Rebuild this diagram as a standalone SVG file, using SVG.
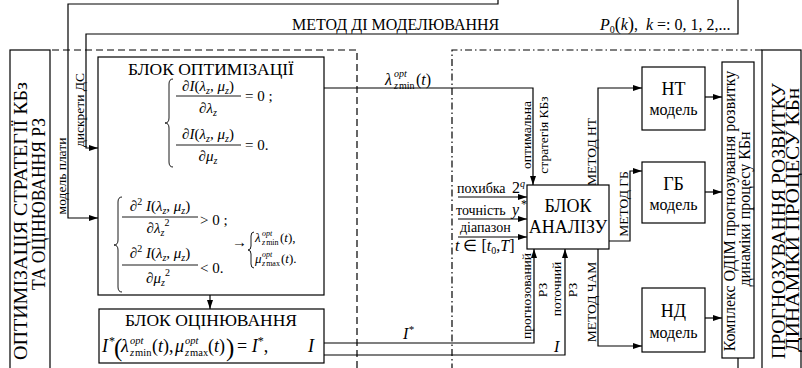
<svg xmlns="http://www.w3.org/2000/svg" width="802" height="368" viewBox="0 0 802 368" font-family="'Liberation Serif','Times New Roman',serif">
<defs>
<style>
text{font-family:"Liberation Serif","Times New Roman",serif;fill:#000}
.i{font-style:italic}
.n{font-style:normal}
.box{fill:#fff;stroke:#000;stroke-width:1.2}
.ln{fill:none;stroke:#000;stroke-width:1.2}
.dash{fill:none;stroke:#000;stroke-width:1.2;stroke-dasharray:7 4}
.dd{fill:none;stroke:#000;stroke-width:1.2;stroke-dasharray:7 3 1.5 3}
.br{fill:none;stroke:#000;stroke-width:0.9}
.big{font-size:18.5px}
.big2{font-size:18px}
.lab{font-size:13.5px}
.ttl{font-size:17.5px}
</style>
<marker id="a" viewBox="0 0 9 6" refX="9" refY="3" markerWidth="9" markerHeight="6" markerUnits="userSpaceOnUse" orient="auto" preserveAspectRatio="none"><path d="M0,0 L9,3 L0,6 z" fill="#000"/></marker>
</defs>
<rect width="802" height="368" fill="#fff"/>

<g id="frames">
<path class="dash" d="M52,50 H357 V368"/>
<path class="dd" d="M762,50 H452 V368"/>
</g>

<g id="connectors">
<path class="ln" d="M498,0 V4 H68 V218 H98" marker-end="url(#a)"/>
<path class="ln" d="M738,0 V34 H86 V148 H98" marker-end="url(#a)"/>
<path class="ln" d="M324,88 H533 V185" marker-end="url(#a)"/>
<path class="ln" d="M210,295 V309" marker-end="url(#a)"/>
<path class="ln" d="M324,343 H534 V249" marker-end="url(#a)"/>
<path class="ln" d="M324,355 H565 V249" marker-end="url(#a)"/>
<path class="ln" d="M458,197 H527" marker-end="url(#a)"/>
<path class="ln" d="M458,219 H527" marker-end="url(#a)"/>
<path class="ln" d="M458,237 H527" marker-end="url(#a)"/>
<path class="ln" d="M598,185 V88 H642" marker-end="url(#a)"/>
<path class="ln" d="M609,241 H630 V171 H642" marker-end="url(#a)"/>
<path class="ln" d="M598,249 V346 H642" marker-end="url(#a)"/>
<path class="ln" d="M705,97 H722" marker-end="url(#a)"/>
<path class="ln" d="M705,192 H722" marker-end="url(#a)"/>
<path class="ln" d="M705,318 H722" marker-end="url(#a)"/>
<path class="ln" d="M738,358 V368"/>
</g>

<g id="labels">
<text x="292" y="30" font-size="16">МЕТОД ДІ МОДЕЛЮВАННЯ</text>
<text x="600" y="30" font-size="16"><tspan class="i">P</tspan><tspan font-size="10" dy="3">0</tspan><tspan dy="-3" font-size="18">(</tspan><tspan class="i">k</tspan><tspan font-size="18">)</tspan>,<tspan class="i" dx="8">k</tspan> =: 0, 1, 2,...</text>
<text class="lab" transform="translate(66,176) rotate(-90)" text-anchor="middle">модель плати</text>
<text class="lab" transform="translate(84,110) rotate(-90)" text-anchor="middle">дискрети ДС</text>
<text class="i" x="385" y="85" font-size="16">λ</text>
<text class="i" x="394" y="77" font-size="10">opt</text>
<text x="394" y="89" font-size="10"><tspan class="i">z</tspan><tspan dx="1">min</tspan></text>
<text x="416" y="85" font-size="16">(<tspan class="i">t</tspan>)</text>
<text class="lab" transform="translate(531,135) rotate(-90)" text-anchor="middle">оптимальна</text>
<text class="lab" transform="translate(548,135) rotate(-90)" text-anchor="middle">стратегія КБз</text>
<text x="457" y="193" font-size="14">похибка</text>
<text x="512" y="193" font-size="16">2<tspan class="i" font-size="10" dy="-6">q</tspan></text>
<text x="521" y="208" font-size="12">*</text>
<text x="456" y="215" font-size="14">точність</text>
<text class="i" x="512" y="215" font-size="16">y</text>
<text x="460" y="232" font-size="14">діапазон</text>
<text x="455" y="251" font-size="16"><tspan class="i">t</tspan> ∈ [<tspan class="i">t</tspan><tspan font-size="10" dy="3">0</tspan><tspan dy="-3">,</tspan><tspan class="i">T</tspan>]</text>
<text class="lab" transform="translate(531,296) rotate(-90)" text-anchor="middle">прогнозований</text>
<text class="lab" transform="translate(547,290) rotate(-90)" text-anchor="middle">РЗ</text>
<text class="lab" transform="translate(561,289) rotate(-90)" text-anchor="middle">поточний</text>
<text class="lab" transform="translate(577,290) rotate(-90)" text-anchor="middle">РЗ</text>
<text class="i" x="403" y="339" font-size="16">I<tspan font-size="11" dy="-6">*</tspan></text>
<text class="i" x="554" y="352" font-size="16">I</text>
<text class="lab" transform="translate(596,152) rotate(-90)" text-anchor="middle">МЕТОД НТ</text>
<text class="lab" transform="translate(628,204) rotate(-90)" text-anchor="middle">МЕТОД ГБ</text>
<text class="lab" transform="translate(596,302) rotate(-90)" text-anchor="middle">МЕТОД ЧАМ</text>
</g>

<g id="left-title">
<rect class="box" x="10" y="50" width="40" height="330"/>
<text class="big" transform="translate(27,221) rotate(-90)" text-anchor="middle" textLength="278" lengthAdjust="spacingAndGlyphs">ОПТИМІЗАЦІЯ СТРАТЕГІЇ КБз</text>
<text class="big" transform="translate(45,204) rotate(-90)" text-anchor="middle" textLength="172" lengthAdjust="spacingAndGlyphs">ТА ОЦІНЮВАННЯ РЗ</text>
</g>

<g id="right-title">
<rect class="box" x="762" y="50" width="39" height="330"/>
<text class="big2" transform="translate(785,221) rotate(-90)" text-anchor="middle" textLength="276" lengthAdjust="spacingAndGlyphs">ПРОГНОЗУВАННЯ РОЗВИТКУ</text>
<text class="big2" transform="translate(799,220) rotate(-90)" text-anchor="middle" textLength="264" lengthAdjust="spacingAndGlyphs">ДИНАМІКИ ПРОЦЕСУ КБн</text>
</g>

<g id="opt-block">
<rect class="box" x="98" y="57" width="226" height="238"/>
<text class="ttl" x="211" y="75" text-anchor="middle">БЛОК ОПТИМІЗАЦІЇ</text>
<path class="br" d="M173,79 Q169,79 169,84 L169,118 Q169,123 165,123 Q169,123 169,128 L169,162 Q169,167 173,167"/>
<text class="i" x="208" y="91" font-size="15" text-anchor="middle">∂I<tspan class="n">(</tspan>λ<tspan font-size="10" dy="3">z</tspan><tspan dy="-3">, μ</tspan><tspan font-size="10" dy="3">z</tspan><tspan class="n" dy="-3">)</tspan></text>
<line class="br" x1="176" y1="96" x2="241" y2="96"/>
<text class="i" x="208" y="113" font-size="15" text-anchor="middle">∂λ<tspan font-size="10" dy="3">z</tspan></text>
<text x="245" y="101" font-size="15">= 0 ;</text>
<text class="i" x="208" y="139" font-size="15" text-anchor="middle">∂I<tspan class="n">(</tspan>λ<tspan font-size="10" dy="3">z</tspan><tspan dy="-3">, μ</tspan><tspan font-size="10" dy="3">z</tspan><tspan class="n" dy="-3">)</tspan></text>
<line class="br" x1="176" y1="145" x2="241" y2="145"/>
<text class="i" x="208" y="161" font-size="15" text-anchor="middle">∂μ<tspan font-size="10" dy="3">z</tspan></text>
<text x="245" y="150" font-size="15">= 0.</text>

<path class="br" d="M122,197 Q118,197 118,202 L118,240 Q118,245 114,245 Q118,245 118,250 L118,287 Q118,292 122,292"/>
<text class="i" x="160" y="211" font-size="15" text-anchor="middle">∂<tspan class="n" font-size="10" dy="-6">2</tspan><tspan dy="6"> I</tspan><tspan class="n">(</tspan>λ<tspan font-size="10" dy="3">z</tspan><tspan dy="-3">, μ</tspan><tspan font-size="10" dy="3">z</tspan><tspan class="n" dy="-3">)</tspan></text>
<line class="br" x1="122" y1="217" x2="198" y2="217"/>
<text class="i" x="158" y="233" font-size="15" text-anchor="middle">∂λ<tspan font-size="10" dy="3">z</tspan><tspan class="n" font-size="10" dy="-10">2</tspan></text>
<text x="200" y="225" font-size="15">&gt; 0 ;</text>
<text class="i" x="160" y="258" font-size="15" text-anchor="middle">∂<tspan class="n" font-size="10" dy="-6">2</tspan><tspan dy="6"> I</tspan><tspan class="n">(</tspan>λ<tspan font-size="10" dy="3">z</tspan><tspan dy="-3">, μ</tspan><tspan font-size="10" dy="3">z</tspan><tspan class="n" dy="-3">)</tspan></text>
<line class="br" x1="122" y1="265" x2="198" y2="265"/>
<text class="i" x="158" y="283" font-size="15" text-anchor="middle">∂μ<tspan font-size="10" dy="3">z</tspan><tspan class="n" font-size="10" dy="-10">2</tspan></text>
<text x="200" y="273" font-size="15">&lt; 0.</text>

<text x="232" y="247" font-size="15">→</text>
<path class="br" d="M254,232 Q251,232 251,236 L251,246 Q251,250 248,250 Q251,250 251,254 L251,264 Q251,268 254,268"/>
<text class="i" x="255" y="242" font-size="13">λ</text>
<text class="i" x="262" y="236" font-size="8">opt</text>
<text x="262" y="245" font-size="8"><tspan class="i">z</tspan><tspan dx="1">min</tspan></text>
<text x="280" y="242" font-size="13">(<tspan class="i">t</tspan>),</text>
<text class="i" x="255" y="263" font-size="13">μ</text>
<text class="i" x="262" y="257" font-size="8">opt</text>
<text x="262" y="266" font-size="8"><tspan class="i">z</tspan><tspan dx="1">max</tspan></text>
<text x="281" y="263" font-size="13">(<tspan class="i">t</tspan>).</text>
</g>

<g id="eval-block">
<rect class="box" x="99" y="309" width="225" height="54"/>
<text class="ttl" x="211" y="326" text-anchor="middle">БЛОК ОЦІНЮВАННЯ</text>
<text class="i" x="102" y="352" font-size="18">I</text>
<text x="109" y="345" font-size="12">*</text>
<text x="114" y="356" font-size="25">(</text>
<text class="i" x="121" y="352" font-size="18">λ</text>
<text class="i" x="130" y="344" font-size="10.5">opt</text>
<text x="130" y="356" font-size="10.5"><tspan class="i">z</tspan><tspan dx="1">min</tspan></text>
<text x="152" y="352" font-size="18">(<tspan class="i">t</tspan>),</text>
<text class="i" x="175" y="352" font-size="18">μ</text>
<text class="i" x="185" y="344" font-size="10.5">opt</text>
<text x="185" y="356" font-size="10.5"><tspan class="i">z</tspan><tspan dx="1">max</tspan></text>
<text x="208" y="352" font-size="18">(<tspan class="i">t</tspan>)</text>
<text x="226" y="356" font-size="25">)</text>
<text x="237" y="352" font-size="18">= <tspan class="i">I</tspan><tspan font-size="12" dy="-7">*</tspan><tspan dy="7">,</tspan></text>
<text class="i" x="308" y="352" font-size="18">I</text>
</g>

<g id="analysis-block">
<rect class="box" x="527" y="185" width="82" height="64"/>
<text x="568" y="212" font-size="18" text-anchor="middle">БЛОК</text>
<text x="568" y="233" font-size="18" text-anchor="middle">АНАЛІЗУ</text>
</g>

<g id="nt-model">
<rect class="box" x="642" y="67" width="63" height="63"/>
<text x="673.5" y="95" font-size="18" text-anchor="middle">НТ</text>
<text x="673.5" y="115" font-size="16" text-anchor="middle">модель</text>
</g>
<g id="gb-model">
<rect class="box" x="642" y="162" width="63" height="61"/>
<text x="673.5" y="190" font-size="18" text-anchor="middle">ГБ</text>
<text x="673.5" y="210" font-size="16" text-anchor="middle">модель</text>
</g>
<g id="nd-model">
<rect class="box" x="642" y="288" width="63" height="64"/>
<text x="673.5" y="317" font-size="18" text-anchor="middle">НД</text>
<text x="673.5" y="338" font-size="16" text-anchor="middle">модель</text>
</g>

<g id="complex">
<rect class="box" x="722" y="62" width="32" height="296"/>
<text transform="translate(735,211) rotate(-90)" font-size="16" text-anchor="middle">Комплекс ОДІМ прогнозування розвитку</text>
<text transform="translate(750,209) rotate(-90)" font-size="16" text-anchor="middle">динаміки процесу КБн</text>
</g>
</svg>
